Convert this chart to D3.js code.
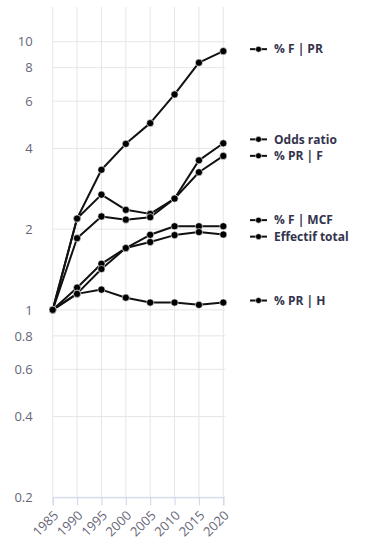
<!DOCTYPE html>
<html><head><meta charset="utf-8">
<script src="https://cdn.jsdelivr.net/npm/d3@7"></script>
<style>
html,body{margin:0;padding:0;background:#fff;}
svg{display:block;font-family:"Open Sans",sans-serif;}
</style></head>
<body><svg id="c" width="373" height="544"></svg>
<script>
const years = [1985, 1990, 1995, 2000, 2005, 2010, 2015, 2020];
const yTicks = [0.2, 0.4, 0.6, 0.8, 1, 2, 4, 6, 8, 10];
const seriesNames = ["% F | PR", "Odds ratio", "% PR | F", "% F | MCF", "Effectif total", "% PR | H"];
const sFPR   = [1, 2.19, 3.33, 4.16, 4.97, 6.36, 8.35, 9.22];
const sOdds  = [1, 2.19, 2.69, 2.36, 2.28, 2.60, 3.61, 4.18];
const sPRF   = [1, 1.85, 2.23, 2.17, 2.215, 2.60, 3.26, 3.75];
const sFMCF  = [1, 1.21, 1.485, 1.70, 1.905, 2.05, 2.05, 2.05];
const sEff   = [1, 1.15, 1.42, 1.70, 1.79, 1.90, 1.95, 1.91];
const sPRH   = [1, 1.147, 1.19, 1.11, 1.065, 1.065, 1.044, 1.065];
const seriesValues = [sFPR, sOdds, sPRF, sFMCF, sEff, sPRH];

const svg = d3.select("#c");
const left = 52.7, right = 223.3, plotTop = 7, bottom = 497.3;
const x = d3.scaleLinear().domain([1985, 2020]).range([left, right]);
const y = d3.scaleLog().domain([0.2, 10]).range([bottom, 41.7]);

// grid
const g = svg.append("g");
g.selectAll("line.v").data(years).join("line")
  .attr("x1", d => x(d)).attr("x2", d => x(d))
  .attr("y1", plotTop).attr("y2", bottom)
  .attr("stroke", "#e6e6e6").attr("stroke-width", 1);
g.selectAll("line.h").data(yTicks).join("line")
  .attr("x1", left).attr("x2", right + 2)
  .attr("y1", d => y(d)).attr("y2", d => y(d))
  .attr("stroke", "#e6e6e6").attr("stroke-width", 1);

// x axis line and ticks
const xAxis = d3.axisBottom(x).tickValues(years).tickFormat(d3.format("d")).tickSize(8).tickPadding(4);
const xa = svg.append("g").attr("transform", `translate(0,${bottom})`).call(xAxis);
xa.select(".domain").attr("stroke", "#ccd6eb");
xa.selectAll(".tick line").attr("stroke", "#ccd6eb");
xa.selectAll(".tick text")
  .attr("font-size", 13).attr("fill", "#666677").attr("font-family", "Open Sans, sans-serif")
  .attr("text-anchor", "end").attr("y", 0).attr("dy", 0)
  .attr("transform", "translate(6,19) rotate(-45)");

// y axis labels
const ya = svg.append("g").attr("transform", `translate(${left},0)`)
  .call(d3.axisLeft(y).tickValues(yTicks).tickFormat(d => String(d)).tickSize(0).tickPadding(20));
ya.select(".domain").remove();
ya.selectAll(".tick text").attr("font-size", 13).attr("fill", "#666677").attr("font-family", "Open Sans, sans-serif");

// lines
const line = d3.line().x((d, i) => x(years[i])).y(d => y(d));
const sg = svg.append("g");
seriesValues.forEach(vals => {
  sg.append("path").datum(vals).attr("d", line)
    .attr("fill", "none").attr("stroke", "#111").attr("stroke-width", 2).attr("stroke-linejoin", "round");
});
seriesValues.forEach(vals => {
  sg.selectAll(null).data(vals).join("circle")
    .attr("cx", (d, i) => x(years[i])).attr("cy", d => y(d)).attr("r", 3.6)
    .attr("fill", "#000").attr("stroke", "#fff").attr("stroke-width", 0.6);
});

// labels with collision avoidance
const labels = seriesNames.map((n, i) => ({ name: n, y: y(seriesValues[i][7]) - 2 }));
labels.sort((a, b) => a.y - b.y);
const gap = 16.5;
for (let it = 0; it < 50; it++) {
  for (let i = 0; i < labels.length - 1; i++) {
    const a = labels[i], b = labels[i + 1];
    const d = b.y - a.y;
    if (d < gap) { const m = (gap - d) / 2; a.y -= m; b.y += m; }
  }
}
const lg = svg.append("g");
labels.forEach(l => {
  lg.append("line").attr("x1", 250).attr("x2", 267).attr("y1", l.y).attr("y2", l.y)
    .attr("stroke", "#111").attr("stroke-width", 2);
  lg.append("circle").attr("cx", 258.5).attr("cy", l.y).attr("r", 3)
    .attr("fill", "#000").attr("stroke", "#fff").attr("stroke-width", 0.6);
  lg.append("text").attr("x", 274).attr("y", l.y).attr("dy", "0.35em")
    .attr("font-size", 12).attr("font-weight", "bold").attr("fill", "#33334d")
    .text(l.name);
});
</script></body></html>
